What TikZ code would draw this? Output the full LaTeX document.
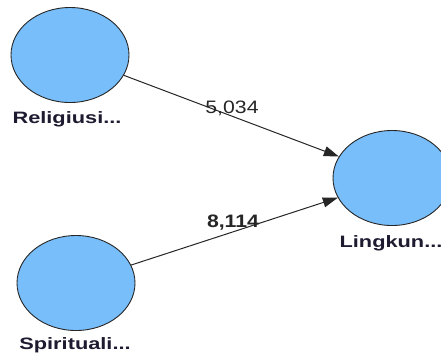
\documentclass[tikz,border=0pt]{standalone}
\usepackage{fontspec}
\setmainfont{Liberation Sans}
\newfontfamily\lblfont[FakeStretch=1.32]{Liberation Sans}
\newfontfamily\numfont[FakeStretch=1.18]{Liberation Sans}
\usetikzlibrary{shapes.geometric,arrows.meta}
\definecolor{lvfill}{HTML}{78BEFA}
\definecolor{lvtext}{HTML}{1E1A30}
\tikzset{
  latent/.style={ellipse, draw=black!85, line width=0.9pt, fill=lvfill,
    minimum width=118pt, minimum height=95pt, inner sep=0pt},
  lvlabel/.style={anchor=base, inner sep=0pt, text=lvtext,
    font=\lblfont\bfseries\fontsize{16.5}{19}\selectfont},
  pathlabel/.style={anchor=base, inner sep=0pt, text=black!85,
    font=\numfont\fontsize{18}{21}\selectfont},
  pathline/.style={draw=black!85, line width=1pt,
    -{Triangle[length=15pt,width=10pt]}}
}
\begin{document}
\begin{tikzpicture}[x=1pt,y=-1pt]
\useasboundingbox (0,0) rectangle (441,357);
\node[latent] (rel) at (70,55) {};
\node[latent] (spi) at (76,283) {};
\node[latent] (lin) at (392,178) {};
\node[lvlabel] (relL) at (67,123) {Religiusi...};
\node[lvlabel] (spiL) at (75,349) {Spirituali...};
\node[lvlabel] (linL) at (391,247) {Lingkun...};
\draw[pathline] (rel) -- (lin.158);
\draw[pathline] (spi) -- (lin.200);
\node[pathlabel] (p1) at (232,113) {5,034};
\node[pathlabel,font=\numfont\bfseries\fontsize{18}{21}\selectfont] (p2) at (233,227) {8,114};
\end{tikzpicture}
\end{document}
